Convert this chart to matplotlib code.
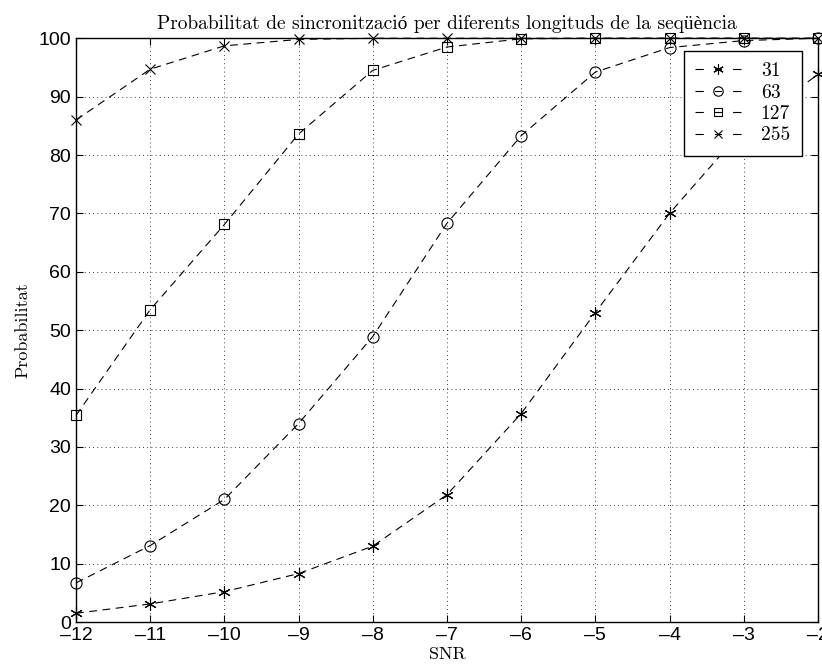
import numpy as np
import matplotlib
matplotlib.use("Agg")
import matplotlib.pyplot as plt
from matplotlib.lines import Line2D

# Dades llegides del gràfic
snr = [-12, -11, -10, -9, -8, -7, -6, -5, -4, -3, -2]
p31 = [1.5, 3.1, 5.2, 8.3, 13.0, 21.8, 35.7, 53.0, 70.0, 84.5, 93.8]
p63 = [6.7, 13.1, 21.0, 34.0, 48.9, 68.3, 83.3, 94.2, 98.4, 99.6, 100.0]
p127 = [35.4, 53.5, 68.1, 83.6, 94.5, 98.5, 99.9, 100.0, 100.0, 100.0, 100.0]
p255 = [86.0, 94.7, 98.7, 99.8, 100.0, 100.0, 100.0, 100.0, 100.0, 100.0, 100.0]
labels = ['31', '63', '127', '255']

# cmr10 no té accents, per això la llista amb un segon tipus
serif = ['cmr10', 'Liberation Serif']

fig = plt.figure(figsize=(8.22, 6.71), dpi=100)
ax = fig.add_axes([0.0925, 0.073, 0.9025, 0.870])

asterisk = (6, 2, 0)
lw = 0.8
series = [(p31, asterisk, 9), (p63, 'o', 8), (p127, 's', 6.5), (p255, 'x', 7)]
handles = []
# llegenda: guió - marcador - guió, com a MATLAB
fs_leg = 14
hl = 2.36
L = hl * fs_leg
a, m = 6.0, 5.0
g = (L - 2 * a - m) / 2
for (vals, mk, ms), lab in zip(series, labels):
    ax.plot(snr, vals, linestyle=(0, (7, 5)), color='black', linewidth=lw,
            marker=mk, markersize=ms, markerfacecolor='none',
            markeredgecolor='black', markeredgewidth=0.8, clip_on=False)
    handles.append(Line2D([], [], color='black', linewidth=lw,
                          linestyle=(0, (a / lw, g / lw, m / lw, g / lw, a / lw, 0.001)),
                          marker=mk, markersize=ms * 0.85, markerfacecolor='none',
                          markeredgecolor='black', markeredgewidth=0.8, label=lab))

ax.set_xlim(-12, -2)
ax.set_ylim(0, 100)
ax.set_xticks(np.arange(-12, -1, 1))
ax.set_yticks(np.arange(0, 101, 10))
ax.set_xticklabels([str(v).replace('-', '\u2013') for v in range(-12, -1)])
ax.tick_params(direction='in', top=True, right=True, labelsize=14, length=5, width=0.8)
for lbl in ax.get_xticklabels() + ax.get_yticklabels():
    lbl.set_family('Liberation Sans')
ax.grid(True, linestyle=(0, (1, 4)), color='black', linewidth=0.6)
for s in ax.spines.values():
    s.set_linewidth(1.0)

ax.set_title('Probabilitat de sincronització per diferents longituds de la seqüència',
             fontsize=14, pad=7, family=serif)
ax.set_xlabel('SNR', fontsize=13, labelpad=2, family=serif)
ax.set_ylabel('Probabilitat', fontsize=13, labelpad=6, family=serif)

leg = ax.legend(handles=handles, loc='upper right', bbox_to_anchor=(0.978, 0.979),
                borderaxespad=0, fancybox=False, edgecolor='black', framealpha=1,
                handlelength=hl, handletextpad=1.0,
                prop={'size': fs_leg, 'family': serif}, borderpad=0.6, labelspacing=0.18)
leg.get_frame().set_linewidth(1.0)

fig.savefig('out.png', dpi=100)
